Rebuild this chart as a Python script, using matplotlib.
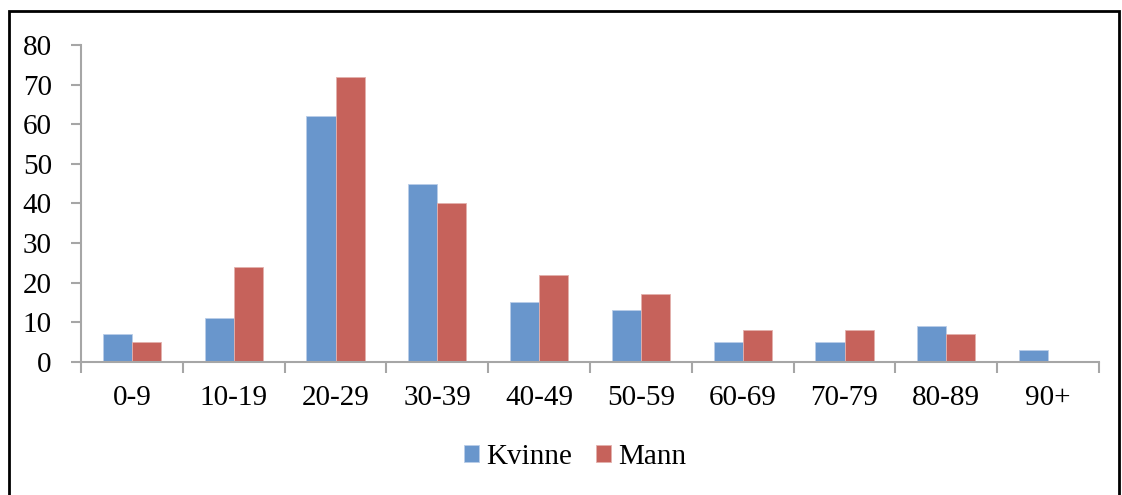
import matplotlib
matplotlib.use("Agg")
from matplotlib import pyplot as plt
from matplotlib.patches import Rectangle
import numpy as np

age_groups = ["0-9", "10-19", "20-29", "30-39", "40-49",
              "50-59", "60-69", "70-79", "80-89", "90+"]
kvinne = [7, 11, 62, 45, 15, 13, 5, 5, 9, 3]
mann = [5, 24, 72, 40, 22, 17, 8, 8, 7, 0]

BLUE = "#6996CC"
RED = "#C6625B"
AXIS = "#A6A6A6"
FS = 21

plt.rcParams["font.family"] = ["Liberation Serif", "DejaVu Serif"]

fig = plt.figure(figsize=(11.22, 4.95), dpi=100)
ax = fig.add_axes([0.0722, 0.2693, 0.9073, 0.6398])

x = np.arange(len(age_groups))
w = 0.285
ax.bar(x - w / 2, kvinne, w, color=BLUE, edgecolor="#B9CDE8", linewidth=0.6,
       label="Kvinne")
ax.bar(x + w / 2, mann, w, color=RED, edgecolor="#E3B0AC", linewidth=0.6,
       label="Mann")

ax.set_xlim(-0.5, len(age_groups) - 0.5)
ax.set_ylim(0, 80)
ax.set_yticks(range(0, 81, 10))
ax.set_xticks(x)
ax.set_xticklabels(age_groups)
ax.set_xticks(np.arange(-0.5, len(age_groups)), minor=True)

for s in ("top", "right"):
    ax.spines[s].set_visible(False)
for s in ("left", "bottom"):
    ax.spines[s].set_color(AXIS)
    ax.spines[s].set_linewidth(1.5)

ax.tick_params(axis="y", length=7, width=1.5, color=AXIS, labelsize=FS, pad=14)
ax.tick_params(axis="x", which="major", length=0, labelsize=FS, pad=17)
ax.tick_params(axis="x", which="minor", length=8, width=1.5, color=AXIS)

ax.legend(loc="center", bbox_to_anchor=(575 / 1122, 1 - 457 / 495),
          bbox_transform=fig.transFigure, ncol=2, frameon=False,
          fontsize=FS, handlelength=0.52, handleheight=0.52,
          handletextpad=0.25, columnspacing=0.8)

fig.patches.append(Rectangle((9 / 1122, -0.05), (1119 - 9) / 1122,
                             1.05 - 11 / 495, transform=fig.transFigure,
                             fill=False, edgecolor="black", linewidth=2))

fig.savefig("out.png", dpi=100)
